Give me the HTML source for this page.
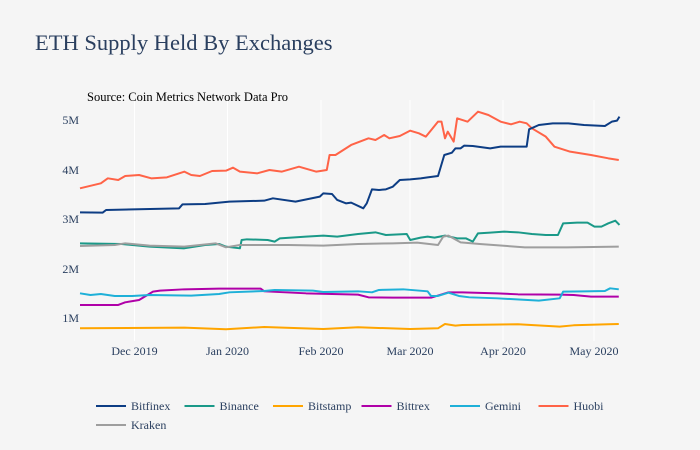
<!DOCTYPE html>
<html><head><meta charset="utf-8"><style>
body{margin:0;background:#f5f5f5;}
svg{display:block;font-family:"Liberation Serif",serif;}
</style></head><body>
<svg width="700" height="450" viewBox="0 0 700 450">
<rect width="700" height="450" fill="#f5f5f5"/>
<g stroke="#ffffff" stroke-width="1">
<line x1="134.5" y1="100" x2="134.5" y2="341"/>
<line x1="227.5" y1="100" x2="227.5" y2="341"/>
<line x1="321" y1="100" x2="321" y2="341"/>
<line x1="410" y1="100" x2="410" y2="341"/>
<line x1="503" y1="100" x2="503" y2="341"/>
<line x1="594" y1="100" x2="594" y2="341"/>
</g>
<text x="35" y="50" font-size="22.5" fill="#2a3f5f">ETH Supply Held By Exchanges</text>
<text x="87" y="101" font-size="12.5" fill="#000">Source: Coin Metrics Network Data Pro</text>
<g font-size="12" fill="#2a3f5f" text-anchor="end">
<text x="79" y="124">5M</text><text x="79" y="174">4M</text><text x="79" y="223">3M</text><text x="79" y="273">2M</text><text x="79" y="322">1M</text>
</g>
<g font-size="12" fill="#2a3f5f" text-anchor="middle">
<text x="134.5" y="355">Dec 2019</text><text x="227.5" y="355">Jan 2020</text><text x="321" y="355">Feb 2020</text><text x="410" y="355">Mar 2020</text><text x="503" y="355">Apr 2020</text><text x="594" y="355">May 2020</text>
</g>
<g transform="translate(80,90) scale(0.3476,0.3333)" fill="none" stroke-width="2" stroke-linejoin="round">
<polyline vector-effect="non-scaling-stroke" stroke="#ff6347" points="0,295 60,280 80,265 110,270 130,258 170,255 205,265 250,262 300,245 320,255 345,258 380,243 420,242 440,233 460,245 510,250 545,240 580,245 630,230 680,245 710,240 718,195 735,195 780,165 830,145 850,150 875,135 890,145 920,138 950,122 975,130 995,140 1030,95 1040,95 1050,145 1058,125 1075,155 1085,85 1115,95 1145,65 1175,75 1210,95 1240,103 1265,95 1285,100 1300,115 1340,140 1365,170 1410,185 1470,195 1520,205 1550,210"/>
<polyline vector-effect="non-scaling-stroke" stroke="#0d3d84" points="0,367 65,368 75,360 285,355 295,343 360,342 430,335 530,332 555,325 620,335 690,320 700,310 725,312 740,330 765,340 780,338 815,355 825,340 840,298 860,300 880,298 900,290 920,270 950,268 980,265 1000,262 1030,258 1048,195 1070,188 1080,175 1095,175 1105,167 1130,168 1180,175 1210,170 1285,170 1292,118 1320,105 1360,100 1405,100 1450,105 1510,108 1530,95 1545,92 1552,80"/>
<polyline vector-effect="non-scaling-stroke" stroke="#1a9988" points="0,460 120,462 200,470 300,475 360,465 400,462 420,470 460,475 465,450 480,448 540,450 560,455 575,445 650,440 700,437 740,440 800,432 850,427 880,435 940,432 950,450 980,443 1000,440 1020,443 1050,437 1085,445 1110,445 1130,455 1145,430 1180,428 1220,425 1260,427 1300,432 1340,435 1375,435 1390,400 1430,398 1460,398 1480,410 1500,410 1520,400 1540,392 1552,405"/>
<polyline vector-effect="non-scaling-stroke" stroke="#9e9e9e" points="0,468 100,465 130,460 200,467 300,470 390,460 420,472 460,465 600,465 700,467 800,462 900,460 970,458 1030,465 1045,440 1060,437 1095,457 1150,462 1280,472 1400,472 1550,470"/>
<polyline vector-effect="non-scaling-stroke" stroke="#b000a8" points="0,645 110,645 130,637 170,630 210,605 230,602 300,598 400,596 520,596 530,604 650,610 800,614 830,622 900,623 1010,623 1060,607 1100,607 1200,610 1260,613 1380,614 1420,615 1470,620 1550,620"/>
<polyline vector-effect="non-scaling-stroke" stroke="#1eb0d8" points="0,610 30,615 60,612 100,618 150,618 200,615 320,617 400,612 430,607 530,603 560,600 670,602 700,606 800,604 840,607 860,600 930,598 1000,604 1010,618 1030,618 1060,608 1090,618 1120,622 1200,625 1320,632 1380,625 1390,605 1450,604 1510,603 1525,595 1550,598"/>
<polyline vector-effect="non-scaling-stroke" stroke="#ffa500" points="0,715 300,713 420,718 530,711 700,717 800,712 950,717 1030,715 1050,702 1080,707 1100,705 1260,703 1380,710 1420,706 1520,703 1550,702"/>
</g>
<g font-size="12" fill="#2a3f5f" stroke-width="2">
<line x1="96" y1="406" x2="126" y2="406" stroke="#0d3d84"/><text x="131" y="410">Bitfinex</text>
<line x1="184.5" y1="406" x2="214.5" y2="406" stroke="#1a9988"/><text x="219.5" y="410">Binance</text>
<line x1="273" y1="406" x2="303" y2="406" stroke="#ffa500"/><text x="308" y="410">Bitstamp</text>
<line x1="361.5" y1="406" x2="391.5" y2="406" stroke="#b000a8"/><text x="396.5" y="410">Bittrex</text>
<line x1="450" y1="406" x2="480" y2="406" stroke="#1eb0d8"/><text x="485" y="410">Gemini</text>
<line x1="538.5" y1="406" x2="568.5" y2="406" stroke="#ff6347"/><text x="573.5" y="410">Huobi</text>
<line x1="96" y1="425" x2="126" y2="425" stroke="#9e9e9e"/><text x="131" y="429">Kraken</text>
</g>
</svg>
</body></html>
